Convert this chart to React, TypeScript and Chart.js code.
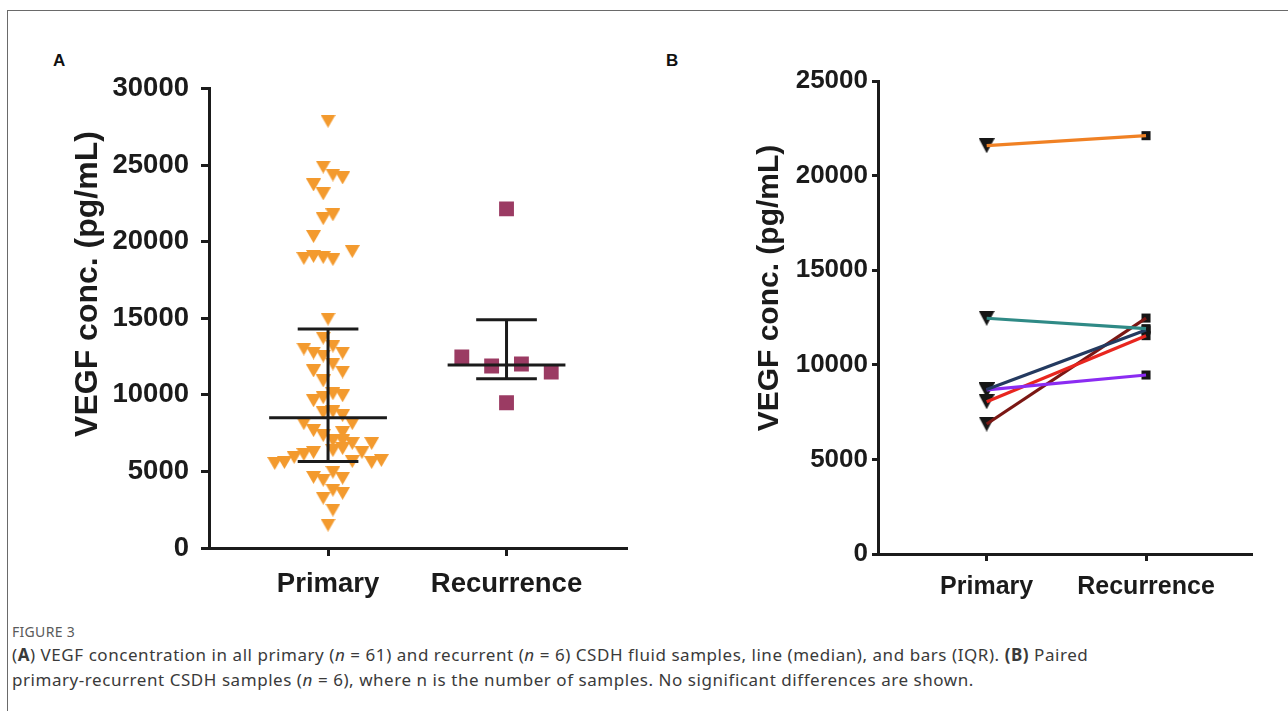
import React, { useEffect, useRef } from 'react';
import { Chart, registerables } from 'chart.js';

Chart.register(...registerables);

// ---------------- data ----------------
const categories = ['Primary', 'Recurrence'];
const yTicksA = [0, 5000, 10000, 15000, 20000, 25000, 30000];
const yTicksB = [0, 5000, 10000, 15000, 20000, 25000];

// Panel A – all primary samples (n = 61)
const primaryValues = [
  27860, 24870, 24350, 24160, 23700, 23120, 21750, 21500, 20330, 19350, 18900, 19030, 18960, 18830,
  14940, 13700, 13180, 12990, 12730, 12530, 12730, 12010, 11560, 11490, 10910,
  9610, 9810, 10070, 9940, 8830, 8900, 8640, 8120, 7660, 8120, 7340, 7530, 7010, 6990,
  6820, 6820, 6230, 6100, 6360, 6490, 6230, 5910, 5580, 5520, 5710, 5580, 5640,
  4610, 4420, 4940, 4550, 3250, 3770, 3570, 2470, 1490,
];
// beeswarm column of each primary point (in marker widths from the category centre)
const primaryColumns = [
  0, -0.5, 0.5, 1.5, -1.5, -0.5, 0.5, -0.5, -1.5, 2.5, -2.5, -1.5, -0.5, 0.5,
  0, -0.5, 0.5, -2.5, -1.5, -0.5, 1.5, 0.5, -1.5, 1.5, -0.5,
  -1.5, -0.5, 0.5, 1.5, -0.5, 0.5, 1.5, -2.5, -1.5, 2.5, -0.5, 1.5, 0.5, 1.5,
  2.5, 4.5, -1.5, -2.5, 0.5, 1.5, 3.5, -3.5, -4.5, -5.5, 5.5, 4.5, 2.5,
  -1.5, -0.5, 0.5, 1.5, -0.5, 0.5, 1.5, 0.5, 0,
];
// Panel A – recurrent samples (n = 6)
const recurrenceValues = [22140, 12470, 11880, 12010, 11490, 9480];
const recurrenceColumns = [0, -1.5, -0.5, 0.5, 1.5, 0];

// median, Q1, Q3 as drawn
const primarySummary = [8500, 5650, 14300];
const recurrenceSummary = [11950, 11050, 14900];

// Panel B – paired samples
const pairedPrimary = [21580, 12460, 8700, 8670, 8050, 6870];
const pairedRecurrence = [22110, 11910, 11840, 9460, 11540, 12470];
const pairColors = ['#f08124', '#2f8a86', '#243a60', '#8b2cf2', '#e8261f', '#7b1714'];

// ---------------- styling ----------------
const FONT = "'Liberation Sans', Arial, Helvetica, sans-serif";
const AXIS = '#1b1b1b';
const ORANGE = '#f39a2e';
const MAROON = '#9b3b63';

// a downward triangle, centred on its bounding box (as GraphPad draws it)
function downTriangle(w: number, h: number, color: string) {
  const c = document.createElement('canvas');
  c.width = w;
  c.height = h;
  const ctx = c.getContext('2d')!;
  ctx.fillStyle = color;
  ctx.beginPath();
  ctx.moveTo(0, 0);
  ctx.lineTo(w, 0);
  ctx.lineTo(w / 2, h);
  ctx.closePath();
  ctx.fill();
  return c;
}

const rotatedTitle = {
  id: 'rotatedTitle',
  afterDraw(chart: any, _args: any, opts: any) {
    if (!opts || !opts.text) return;
    const { ctx } = chart;
    ctx.save();
    ctx.translate(opts.x, opts.y);
    ctx.rotate(-Math.PI / 2);
    ctx.font = `bold ${opts.size}px ${FONT}`;
    ctx.fillStyle = AXIS;
    ctx.textAlign = 'center';
    ctx.textBaseline = 'middle';
    ctx.fillText(opts.text, 0, 0);
    ctx.restore();
  },
};

const seg = (x1: number, y1: number, x2: number, y2: number, color = AXIS, width = 3) => ({
  type: 'scatter',
  data: [
    { x: x1, y: y1 },
    { x: x2, y: y2 },
  ],
  showLine: true,
  borderColor: color,
  borderWidth: width,
  borderCapStyle: 'butt',
  pointRadius: 0,
  pointHoverRadius: 0,
  order: 0,
});

const summaryBars = (cx: number, s: number[]) => [
  seg(cx - 0.33, s[0], cx + 0.33, s[0]),
  seg(cx, s[1], cx, s[2]),
  seg(cx - 0.17, s[1], cx + 0.17, s[1]),
  seg(cx - 0.17, s[2], cx + 0.17, s[2]),
];

function xScale(min: number, max: number, fontSize: number, pad: number, height: number, tickLen: number) {
  return {
    type: 'linear',
    min,
    max,
    afterBuildTicks: (s: any) => {
      s.ticks = categories.map((_, i) => ({ value: i + 1 }));
    },
    afterFit: (s: any) => {
      s.height = height;
    },
    ticks: {
      callback: (v: number) => categories[Math.round(v) - 1],
      font: { family: FONT, size: fontSize, weight: 'bold' },
      color: AXIS,
      padding: pad,
      autoSkip: false,
      maxRotation: 0,
    },
    grid: {
      drawOnChartArea: false,
      drawTicks: true,
      tickLength: tickLen,
      tickWidth: 3,
      tickColor: AXIS,
    },
    border: { display: true, color: AXIS, width: 3 },
  };
}

function yScale(ticks: number[], fontSize: number, pad: number, width: number, tickLen: number) {
  return {
    type: 'linear',
    min: ticks[0],
    max: ticks[ticks.length - 1],
    afterBuildTicks: (s: any) => {
      s.ticks = ticks.map((v) => ({ value: v }));
    },
    afterFit: (s: any) => {
      s.width = width;
    },
    ticks: {
      font: { family: FONT, size: fontSize, weight: 'bold' },
      color: AXIS,
      padding: pad,
      callback: (v: number) => String(v),
    },
    grid: {
      drawOnChartArea: false,
      drawTicks: true,
      tickLength: tickLen,
      tickWidth: 3,
      tickColor: AXIS,
    },
    border: { display: true, color: AXIS, width: 3 },
  };
}

const STEP_A = 0.0543; // one triangle column, in category units
const STEP_R = 0.167;

function configA(): any {
  return {
    type: 'scatter',
    data: {
      datasets: [
        ...summaryBars(1, primarySummary),
        ...summaryBars(2, recurrenceSummary),
        {
          type: 'scatter',
          data: primaryValues.map((v, i) => ({ x: 1 + primaryColumns[i] * STEP_A, y: v })),
          pointStyle: downTriangle(15, 13, ORANGE),
          pointRadius: 8,
          order: 2,
        },
        {
          type: 'scatter',
          data: recurrenceValues.map((v, i) => ({ x: 2 + recurrenceColumns[i] * STEP_R, y: v })),
          pointStyle: 'rect',
          pointRadius: 10.5,
          pointBackgroundColor: MAROON,
          pointBorderColor: MAROON,
          pointBorderWidth: 0,
          order: 2,
        },
      ],
    },
    options: {
      responsive: false,
      animation: false,
      events: [],
      layout: { padding: { top: 25, right: 33, bottom: 0, left: 0 } },
      plugins: {
        legend: { display: false },
        tooltip: { enabled: false },
        rotatedTitle: { text: 'VEGF conc. (pg/mL)', size: 32, x: 68, y: 224 },
      },
      scales: {
        x: xScale(0.333, 2.675, 27.5, 12, 62, 8),
        y: yScale(yTicksA, 27.5, 12, 189, 8),
      },
    },
    plugins: [rotatedTitle],
  };
}

function configB(): any {
  return {
    type: 'scatter',
    data: {
      datasets: [
        ...pairedPrimary.map((p, i) => seg(1, p, 2, pairedRecurrence[i], pairColors[i], 3.2)),
        {
          type: 'scatter',
          data: pairedPrimary.map((v) => ({ x: 1, y: v })),
          pointStyle: downTriangle(16, 15, '#161616'),
          pointRadius: 8,
          order: 2,
        },
        {
          type: 'scatter',
          data: pairedRecurrence.map((v) => ({ x: 2, y: v })),
          pointStyle: 'rect',
          pointRadius: 6.4,
          pointBackgroundColor: '#161616',
          pointBorderWidth: 0,
          order: 2,
        },
      ],
    },
    options: {
      responsive: false,
      animation: false,
      events: [],
      layout: { padding: { top: 21, right: 36, bottom: 0, left: 0 } },
      plugins: {
        legend: { display: false },
        tooltip: { enabled: false },
        rotatedTitle: { text: 'VEGF conc. (pg/mL)', size: 30, x: 80, y: 228 },
      },
      scales: {
        x: xScale(0.318, 2.665, 25, 11, 66, 7),
        y: yScale(yTicksB, 26, 4, 188, 6),
      },
    },
    plugins: [rotatedTitle],
  };
}

function ChartCanvas({ make, left, top, width, height }: any) {
  const ref = useRef<HTMLCanvasElement | null>(null);
  useEffect(() => {
    if (!ref.current) return;
    const chart = new Chart(ref.current, make());
    return () => chart.destroy();
  }, [make]);
  return (
    <canvas
      ref={ref}
      width={width}
      height={height}
      style={{ position: 'absolute', left, top, width, height }}
    />
  );
}

const CAPTION_FONT = "'Noto Sans', 'Open Sans', sans-serif";

export default function App() {
  return (
    <div
      style={{
        position: 'fixed',
        left: 0,
        top: 0,
        width: 1288,
        height: 711,
        background: '#ffffff',
        overflow: 'hidden',
      }}
    >
      <div
        style={{
          position: 'absolute',
          left: 7,
          top: 10,
          width: 1290,
          height: 720,
          borderTop: '1px solid #6a6a6a',
          borderLeft: '1px solid #6a6a6a',
        }}
      />
      <div style={{ position: 'absolute', left: 53, top: 51, font: `bold 17px ${FONT}`, color: '#111' }}>A</div>
      <div style={{ position: 'absolute', left: 666, top: 51, font: `bold 17px ${FONT}`, color: '#111' }}>B</div>
      <ChartCanvas make={configA} left={20} top={60} width={640} height={550} />
      <ChartCanvas make={configB} left={690} top={60} width={598} height={560} />
      <div
        style={{
          position: 'absolute',
          left: 12,
          top: 622,
          font: `14px ${CAPTION_FONT}`,
          color: '#5a5a5a',
          letterSpacing: 0.3,
        }}
      >
        FIGURE 3
      </div>
      <div
        style={{
          position: 'absolute',
          left: 12,
          top: 642,
          font: `17px ${CAPTION_FONT}`,
          lineHeight: '25px',
          color: '#3a3a3a',
          letterSpacing: 0.55,
          whiteSpace: 'nowrap',
        }}
      >
        <div>
          (<b>A</b>) VEGF concentration in all primary (<i>n</i> = 61) and recurrent (<i>n</i> = 6) CSDH fluid samples,
          line (median), and bars (IQR). <b>(B)</b> Paired
        </div>
        <div>
          primary-recurrent CSDH samples (<i>n</i> = 6), where n is the number of samples. No significant differences
          are shown.
        </div>
      </div>
    </div>
  );
}
